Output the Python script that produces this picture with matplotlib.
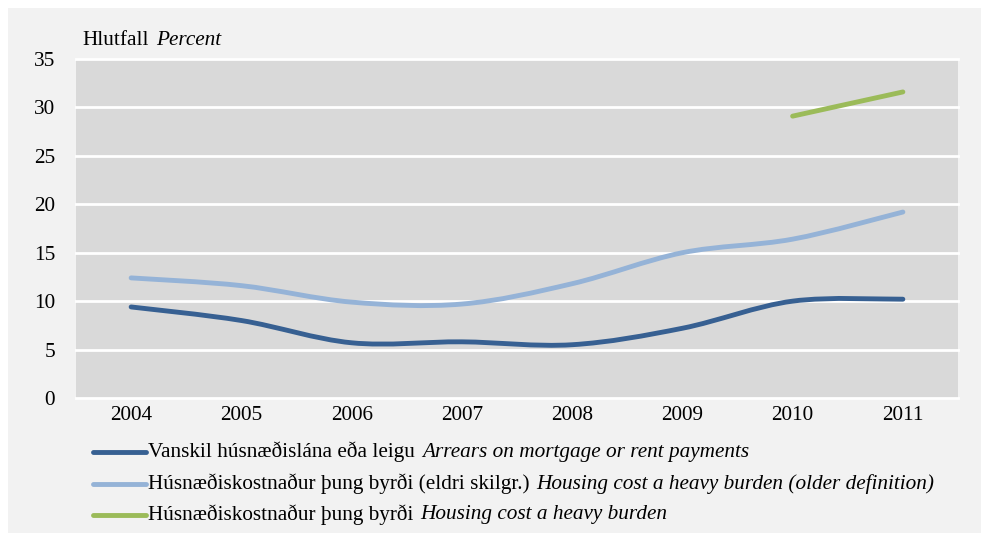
import matplotlib
matplotlib.use("Agg")
import matplotlib.pyplot as plt
from matplotlib.path import Path
from matplotlib.patches import PathPatch, Rectangle
from matplotlib.lines import Line2D

plt.rcParams['font.family'] = ['Liberation Serif', 'DejaVu Serif']

years = ['2004', '2005', '2006', '2007', '2008', '2009', '2010', '2011']
arrears = [9.4, 8.0, 5.7, 5.8, 5.5, 7.2, 10.0, 10.2]
burden_old = [12.4, 11.6, 9.9, 9.7, 11.8, 15.0, 16.4, 19.2]
burden_new_years = ['2010', '2011']
burden_new = [29.1, 31.6]

labels_is = ['Vanskil húsnæðislána eða leigu',
             'Húsnæðiskostnaður þung byrði (eldri skilgr.)',
             'Húsnæðiskostnaður þung byrði']
labels_en = ['Arrears on mortgage or rent payments',
             'Housing cost a heavy burden (older definition)',
             'Housing cost a heavy burden']
colors = ['#376092', '#95b3d7', '#9bbb59']
FS = 15.3

W, H = 981, 533
fig = plt.figure(figsize=(W / 100, H / 100), dpi=100)
fig.patch.set_facecolor('white')
fig.patches.append(Rectangle((8 / W, 0), 1, 1 - 8 / H, transform=fig.transFigure,
                             facecolor='#f2f2f2', edgecolor='none', zorder=-10))

ax = fig.add_axes([76 / W, 1 - 398 / H, (958 - 76) / W, (398 - 59) / H])
ax.set_facecolor('#d9d9d9')
for s in ax.spines.values():
    s.set_visible(False)
ax.set_xlim(-0.5, len(years) - 0.5)
ax.set_ylim(0, 35)
ax.set_yticks(range(0, 36, 5))
ax.set_xticks(range(len(years)))
ax.set_xticklabels(years)
ax.tick_params(length=0, labelsize=FS, colors='black')
ax.tick_params(axis='y', pad=15)
ax.tick_params(axis='x', pad=6)
for v in range(0, 36, 5):
    ax.axhline(v, color='white', lw=2.0, zorder=1, clip_on=False)


def smooth_path(xs, ys):
    pts = list(zip(xs, ys))
    n = len(pts)
    verts = [pts[0]]
    codes = [Path.MOVETO]
    for i in range(n - 1):
        p0 = pts[max(i - 1, 0)]
        p1 = pts[i]
        p2 = pts[i + 1]
        p3 = pts[min(i + 2, n - 1)]
        c1 = (p1[0] + (p2[0] - p0[0]) / 6, p1[1] + (p2[1] - p0[1]) / 6)
        c2 = (p2[0] - (p3[0] - p1[0]) / 6, p2[1] - (p3[1] - p1[1]) / 6)
        verts += [c1, c2, p2]
        codes += [Path.CURVE4] * 3
    return Path(verts, codes)


series = [
    (list(range(len(years))), arrears),
    (list(range(len(years))), burden_old),
    ([years.index(y) for y in burden_new_years], burden_new),
]
for (xs, ys), c in zip(series, colors):
    ax.add_patch(PathPatch(smooth_path(xs, ys), facecolor='none', edgecolor=c,
                           lw=3.5, capstyle='round', zorder=3))

# axis title
t = fig.text(82 / W, 1 - 45 / H, 'Hlutfall', fontsize=FS, va='baseline')
fig.canvas.draw()
r = fig.canvas.get_renderer()
bb = t.get_window_extent(r)
fig.text((bb.x1 + 8) / W, 1 - 45 / H, 'Percent', fontsize=FS, style='italic', va='baseline')

# legend
rows_y = [452, 484, 515]
for ly, c, li, le in zip(rows_y, colors, labels_is, labels_en):
    yf = 1 - ly / H
    fig.add_artist(Line2D([93 / W, 146 / W], [yf, yf], color=c, lw=3.5,
                          solid_capstyle='round', transform=fig.transFigure))
    t = fig.text(148 / W, yf, li, fontsize=FS, va='center')
    bb = t.get_window_extent(r)
    fig.text((bb.x1 + 7) / W, yf, le, fontsize=FS, style='italic', va='center')

fig.savefig('out.png', dpi=100)
